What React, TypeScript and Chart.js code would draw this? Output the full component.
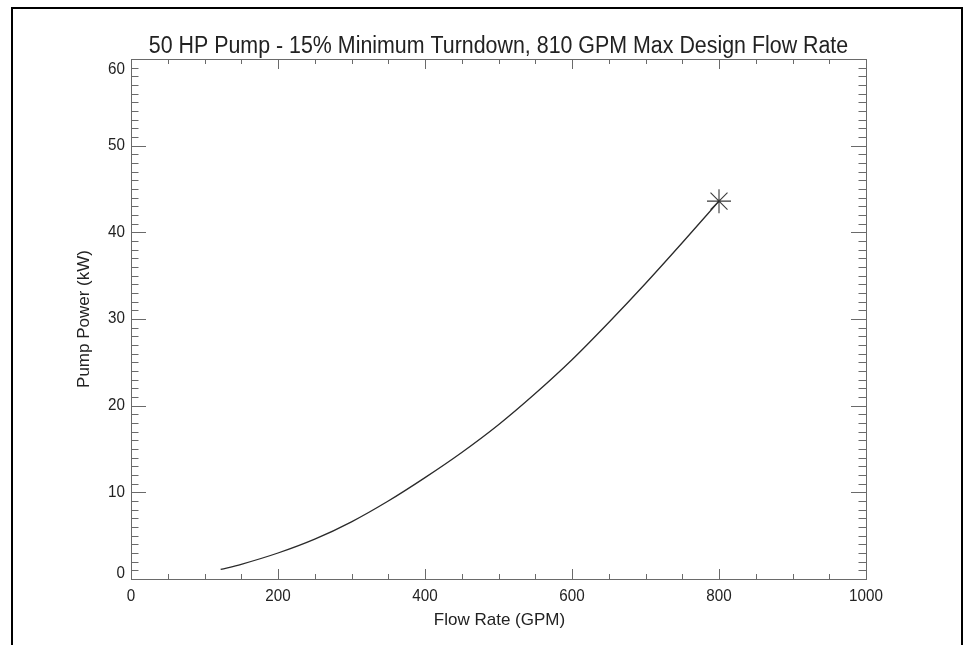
import React, { useEffect, useRef } from "react";
import { Chart, registerables } from "chart.js";

Chart.register(...registerables);

const chartTitle = "50 HP Pump - 15% Minimum Turndown, 810 GPM Max Design Flow Rate";
const xAxisTitle = "Flow Rate (GPM)";
const yAxisTitle = "Pump Power (kW)";

const flowRate = [122, 150, 200, 250, 300, 350, 400, 450, 500, 550, 600, 650, 700, 750, 800];
const pumpPower = [1.1, 1.7, 3.0, 4.6, 6.6, 9.0, 11.7, 14.6, 17.8, 21.4, 25.3, 29.6, 34.1, 38.8, 43.6];

const designFlow = [800];
const designPower = [43.6];

const xTickLabels = [0, 200, 400, 600, 800, 1000];
const yTickLabels = [0, 10, 20, 30, 40, 50, 60];
const xMinorStep = 50;
const yMinorStep = 1;

const FONT = '"Liberation Sans", Arial, sans-serif';

function scaledText(ctx: any, text: string, x: number, y: number, sx: number) {
  ctx.save();
  ctx.translate(x, y);
  ctx.scale(sx, 1);
  ctx.fillText(text, 0, 0);
  ctx.restore();
}

const framePlugin = {
  id: "idlFrame",
  afterDraw(chart: any) {
    const { ctx, chartArea, scales } = chart;
    const { left, right, top, bottom } = chartArea;
    const xs = scales.x;
    const ys = scales.y;
    ctx.save();

    // outer page frame
    ctx.strokeStyle = "#000";
    ctx.lineWidth = 2;
    ctx.beginPath();
    ctx.moveTo(12, 700);
    ctx.lineTo(12, 8);
    ctx.lineTo(962, 8);
    ctx.lineTo(962, 700);
    ctx.stroke();

    // plot box
    ctx.strokeStyle = "#6a6a6a";
    ctx.lineWidth = 1;
    ctx.strokeRect(Math.round(left) + 0.5, Math.round(top) + 0.5, Math.round(right - left), Math.round(bottom - top));

    // x ticks
    ctx.beginPath();
    for (let v = xs.min; v <= xs.max + 1e-9; v += xMinorStep) {
      const px = Math.round(xs.getPixelForValue(v)) + 0.5;
      const major = xTickLabels.includes(v);
      const len = major ? 10 : 5;
      ctx.moveTo(px, bottom);
      ctx.lineTo(px, bottom - len);
      ctx.moveTo(px, top);
      ctx.lineTo(px, top + len);
    }
    // y ticks
    for (let v = ys.min; v <= ys.max + 1e-9; v += yMinorStep) {
      const py = Math.round(ys.getPixelForValue(v)) + 0.5;
      const major = yTickLabels.includes(v);
      const len = major ? 15 : 7.5;
      ctx.moveTo(left, py);
      ctx.lineTo(left + len, py);
      ctx.moveTo(right, py);
      ctx.lineTo(right - len, py);
    }
    ctx.stroke();

    // tick labels
    ctx.fillStyle = "#222";
    ctx.font = `16px ${FONT}`;
    ctx.textAlign = "center";
    ctx.textBaseline = "middle";
    xTickLabels.forEach((v) => {
      scaledText(ctx, String(v), xs.getPixelForValue(v), bottom + 18, 0.95);
    });
    ctx.textAlign = "right";
    yTickLabels.forEach((v) => {
      let py = ys.getPixelForValue(v);
      py = Math.max(py, top + 11);
      py = Math.min(py, bottom - 5);
      scaledText(ctx, String(v), left - 6, py, 0.95);
    });

    // axis titles
    ctx.font = `17px ${FONT}`;
    ctx.textAlign = "center";
    scaledText(ctx, xAxisTitle, (left + right) / 2 + 1, bottom + 41, 1.0);
    ctx.save();
    ctx.translate(84, (top + bottom) / 2);
    ctx.rotate(-Math.PI / 2);
    ctx.fillText(yAxisTitle, 0, 0);
    ctx.restore();

    // chart title
    ctx.font = `23px ${FONT}`;
    ctx.textBaseline = "alphabetic";
    scaledText(ctx, chartTitle, (left + right) / 2, 53, 0.93);

    ctx.restore();
  },
};

export default function App() {
  const canvasRef = useRef<HTMLCanvasElement | null>(null);

  useEffect(() => {
    if (!canvasRef.current) return;
    const chart = new Chart(canvasRef.current, {
      type: "line",
      data: {
        datasets: [
          {
            label: "Pump Power",
            data: flowRate.map((x, i) => ({ x, y: pumpPower[i] })),
            borderColor: "#2a2a2a",
            borderWidth: 1.3,
            pointRadius: 0,
            cubicInterpolationMode: "monotone",
            fill: false,
          },
          {
            label: "Design Point",
            data: designFlow.map((x, i) => ({ x, y: designPower[i] })),
            showLine: false,
            pointStyle: "star",
            pointRadius: 12,
            borderColor: "#3a3a3a",
            borderWidth: 1.1,
            backgroundColor: "#3a3a3a",
          },
        ],
      },
      options: {
        animation: false,
        responsive: false,
        maintainAspectRatio: false,
        devicePixelRatio: 1,
        layout: { padding: { left: 131, right: 100, top: 59, bottom: 66 } },
        plugins: { legend: { display: false }, title: { display: false }, tooltip: { enabled: false } },
        scales: {
          x: { type: "linear", min: 0, max: 1000, display: false },
          y: { type: "linear", min: 0, max: 60, display: false },
        },
      },
      plugins: [framePlugin],
    });
    return () => chart.destroy();
  }, []);

  return (
    <div style={{ position: "absolute", left: 0, top: 0, width: 966, height: 645, background: "#fff" }}>
      <canvas ref={canvasRef} width={966} height={645} style={{ display: "block" }} />
    </div>
  );
}
